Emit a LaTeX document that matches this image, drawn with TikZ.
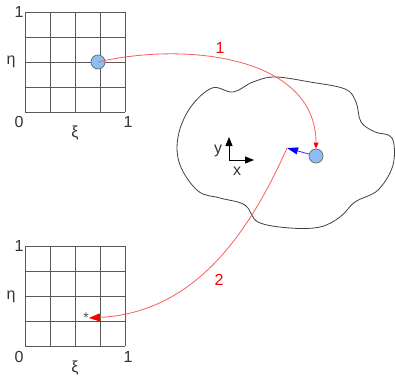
\documentclass[tikz,border=0pt]{standalone}
\usepackage{fontspec}
\setmainfont{Liberation Sans}
\usetikzlibrary{arrows.meta}
\definecolor{PointBlue}{RGB}{140,190,245}
\definecolor{MapRed}{RGB}{255,90,90}

\begin{document}
\begin{tikzpicture}[x=1pt,y=1pt]
        \tikzset{GridStyle/.style={draw=black!65, line width=0.9pt},
        LabelStyle/.style={font=\fontsize{16}{18}\selectfont, text=black!80, inner sep=0pt},
        PointStyle/.style={circle, draw=black!60, fill=PointBlue, minimum size=14pt, inner sep=0pt, line width=0.7pt},
        MapEdge/.style={draw=MapRed, line width=0.8pt},
        MapLabel/.style={font=\fontsize{16}{18}\selectfont, text=red, inner sep=0pt}}
        \useasboundingbox (0,0) rectangle (395,376);
        % reference element, top
        \draw[GridStyle, shift={(25,264)}] (0,0) grid[step=25] (100,100);
        \node[LabelStyle] (TopOne) at (19,364) {1};
        \node[LabelStyle] (TopEta) at (11,314) {η};
        \node[LabelStyle] (TopZero) at (19,254) {0};
        \node[LabelStyle] (TopXi) at (75,243) {ξ};
        \node[LabelStyle] (TopOneX) at (128,254) {1};
        % reference element, bottom
        \draw[GridStyle, shift={(25,30)}] (0,0) grid[step=25] (100,100);
        \node[LabelStyle] (BotOne) at (19,130) {1};
        \node[LabelStyle] (BotEta) at (11,79) {η};
        \node[LabelStyle] (BotZero) at (19,19) {0};
        \node[LabelStyle] (BotXi) at (75,8) {ξ};
        \node[LabelStyle] (BotOneX) at (128,19) {1};
        % physical domain
        \draw[black!75, line width=0.8pt] plot[smooth cycle, tension=0.6] coordinates {
            (212,288) (233,284) (253,294) (275,299) (310,294) (345,287) (356,274)
            (361,254) (375,244) (392,238) (393,211) (378,186) (355,174) (340,159)
            (320,149) (290,148) (258,154) (245,171) (220,178) (198,185) (180,211)
            (178,239) (190,268)};
        \coordinate (O) at (229,216);
        \coordinate (OY) at (229,239);
        \coordinate (OX) at (254,216);
        \draw[line width=0.8pt, -{Triangle[width=7pt,length=9pt]}] (O) -- (OY);
        \draw[line width=0.8pt, -{Triangle[width=7pt,length=9pt]}] (O) -- (OX);
        \node[LabelStyle] (AxisY) at (218,225) {y};
        \node[LabelStyle] (AxisX) at (237,205) {x};
        % points
        \node[PointStyle] (P) at (98,314) {};
        \node[PointStyle] (Q) at (316,220) {};
        \coordinate (T) at (287,228);
        \node[font=\fontsize{14}{16}\selectfont, text=black!70, inner sep=0pt] (S) at (86,58) {*};
        % mappings
        \draw[MapEdge, -{Triangle[width=5pt,length=6pt, red]}] (P.center) to[out=13,in=90] (Q.north);
        \draw[blue!80, line width=0.8pt, -{Triangle[width=7pt,length=11pt, blue]}] (Q) -- (T);
        \draw[MapEdge, -{Triangle[width=8pt,length=11pt, red]}] (T) to[out=-114,in=3] (S.east);
        \node[MapLabel] (LabOne) at (220,328) {1};
        \node[MapLabel] (LabTwo) at (219,96) {2};
\end{tikzpicture}
\end{document}
